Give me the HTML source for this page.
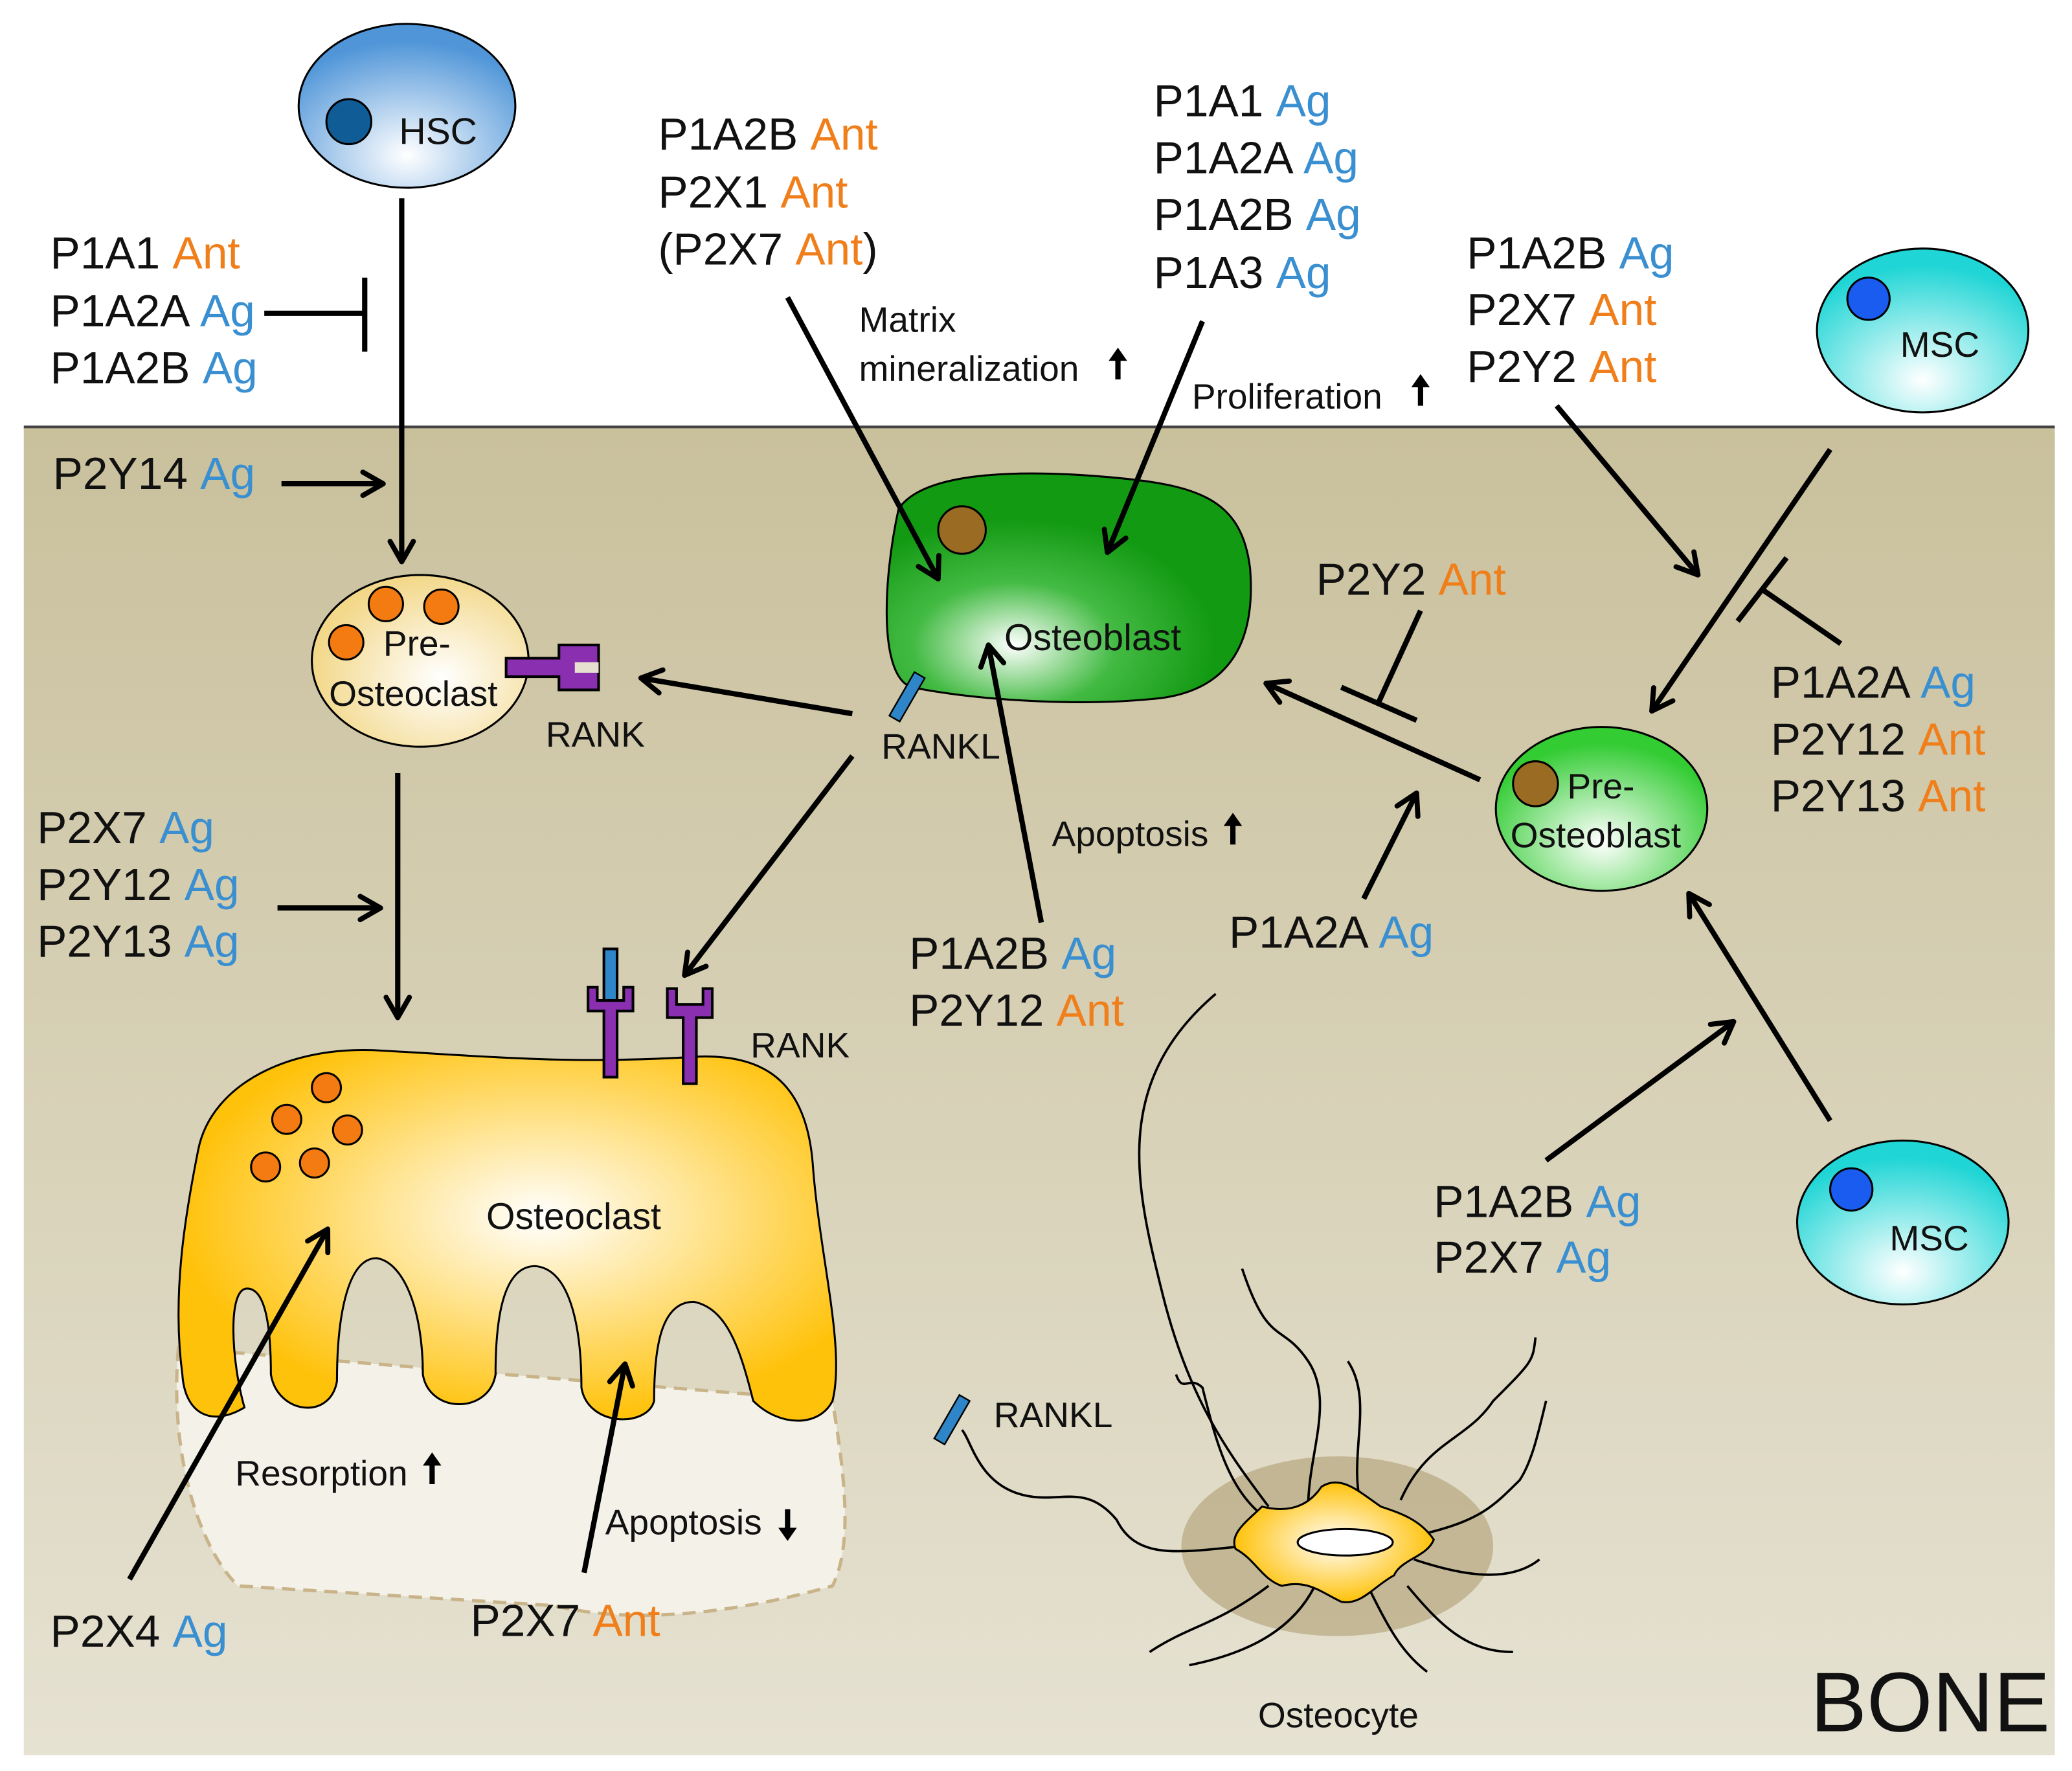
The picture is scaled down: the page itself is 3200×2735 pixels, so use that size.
<!DOCTYPE html>
<html><head><meta charset="utf-8"><style>
html,body{margin:0;padding:0;background:#fff;width:3200px;height:2735px;overflow:hidden}
svg{display:block}
text{font-family:"Liberation Sans",sans-serif}
.b{font-size:34px;fill:#111}
.s{font-size:27px;fill:#111}
.o{fill:#f07f1b}
.g{fill:#3a8fd0}
</style></head><body>
<svg width="3200" height="2735" viewBox="0 0 1568 1340" xmlns="http://www.w3.org/2000/svg">
<defs>
<linearGradient id="bone" x1="0" y1="0" x2="0" y2="1">
<stop offset="0" stop-color="#c9c09c"/><stop offset="1" stop-color="#e6e2d2"/></linearGradient>
<radialGradient id="blue" cx="0.5" cy="0.8" r="0.7"><stop offset="0" stop-color="#ffffff"/><stop offset="1" stop-color="#4f95d8"/></radialGradient>
<radialGradient id="cyan" cx="0.5" cy="0.8" r="0.7"><stop offset="0" stop-color="#ffffff"/><stop offset="1" stop-color="#1fd5d5"/></radialGradient>
<radialGradient id="pre" cx="0.6" cy="0.6" r="0.6"><stop offset="0" stop-color="#ffffff"/><stop offset="1" stop-color="#f3d88a"/></radialGradient>
<radialGradient id="lg" cx="0.5" cy="0.7" r="0.6"><stop offset="0" stop-color="#ffffff"/><stop offset="1" stop-color="#33cc33"/></radialGradient>
<radialGradient id="dg" cx="0.35" cy="0.75" r="0.55"><stop offset="0" stop-color="#ffffff"/><stop offset="0.5" stop-color="#44bb44"/><stop offset="1" stop-color="#139a13"/></radialGradient>
<radialGradient id="oc" cx="0.55" cy="0.45" r="0.55"><stop offset="0" stop-color="#ffffff"/><stop offset="1" stop-color="#ffc20a"/></radialGradient>
<radialGradient id="ocy" cx="0.5" cy="0.5" r="0.5"><stop offset="0" stop-color="#ffffff"/><stop offset="1" stop-color="#ffc20a"/></radialGradient>
<marker id="ar" viewBox="0 0 20 20" refX="17" refY="10" markerWidth="22" markerHeight="22" markerUnits="userSpaceOnUse" orient="auto">
<path d="M3,2 L17,10 L3,18" fill="none" stroke="#000" stroke-width="3.5" stroke-linecap="round" stroke-linejoin="round"/></marker>
</defs>
<rect width="1568" height="1340" fill="#fff"/>
<rect x="18" y="323" width="1537" height="1005" fill="url(#bone)"/>
<line x1="18" y1="323" x2="1555" y2="323" stroke="#444" stroke-width="2"/>

<!-- HSC -->
<ellipse cx="308" cy="80" rx="82" ry="62" fill="url(#blue)" stroke="#000" stroke-width="1.5"/>
<circle cx="264" cy="92" r="17" fill="#0f5c96" stroke="#000" stroke-width="1.5"/>
<text x="302" y="109" font-size="28" fill="#111">HSC</text>

<!-- MSCs -->
<ellipse cx="1455" cy="250" rx="80" ry="62" fill="url(#cyan)" stroke="#000" stroke-width="1.5"/>
<circle cx="1414" cy="226" r="16" fill="#1a5cf0" stroke="#000" stroke-width="1.5"/>
<text x="1438" y="270" font-size="27" fill="#111">MSC</text>
<ellipse cx="1440" cy="925" rx="80" ry="62" fill="url(#cyan)" stroke="#000" stroke-width="1.5"/>
<circle cx="1401" cy="900" r="16" fill="#1a5cf0" stroke="#000" stroke-width="1.5"/>
<text x="1430" y="946" font-size="27" fill="#111">MSC</text>

<!-- Pre-osteoclast -->
<ellipse cx="318" cy="500" rx="82" ry="65" fill="url(#pre)" stroke="#000" stroke-width="1.5"/>
<path d="M383,498 h40 v-10 h30 v34 h-30 v-10 h-40z" fill="#8a2fb0" stroke="#000" stroke-width="2"/>
<rect x="435" y="501" width="18" height="8" fill="#e5e0cf"/>
<g fill="#f47a12" stroke="#000" stroke-width="1.5"><circle cx="292" cy="457" r="13"/><circle cx="334" cy="459" r="13"/><circle cx="262" cy="486" r="13"/></g>
<text x="290" y="496" font-size="27" fill="#111">Pre-</text>
<text x="249" y="534" font-size="27" fill="#111">Osteoclast</text>
<text x="413" y="565" class="s">RANK</text>

<!-- Osteoclast pit -->
<path d="M135,1020 C128,1100 150,1170 180,1200 L420,1215 C480,1230 560,1220 630,1200 C645,1170 640,1120 630,1060 L135,1020z" fill="#f3f1e8" stroke="#c9b48a" stroke-width="2.5" stroke-dasharray="10,6"/>
<!-- Osteoclast body -->
<path d="M150,870 C160,820 220,790 290,795 C380,800 430,805 520,800 C580,795 610,820 615,880 C620,950 640,1020 630,1060 C620,1080 590,1080 570,1060 C560,1020 550,990 525,985 C500,985 495,1020 495,1060 C490,1080 445,1080 440,1050 C440,1000 430,960 405,958 C380,958 375,1000 375,1040 C370,1070 325,1070 320,1040 C320,990 305,955 285,952 C262,952 255,1000 255,1045 C250,1075 210,1070 205,1040 C205,1000 200,975 187,975 C172,975 175,1030 185,1065 C160,1080 140,1070 138,1040 C130,980 140,920 150,870z" fill="url(#oc)" stroke="#000" stroke-width="1.5"/>
<g fill="#f47a12" stroke="#000" stroke-width="1.5"><circle cx="247" cy="823" r="11"/><circle cx="217" cy="847" r="11"/><circle cx="263" cy="855" r="11"/><circle cx="201" cy="883" r="11"/><circle cx="238" cy="880" r="11"/></g>
<text x="368" y="930" font-size="28" fill="#111">Osteoclast</text>
<g fill="#8a2fb0" stroke="#000" stroke-width="2">
<rect x="457" y="718" width="10" height="45" fill="#2e86c8"/>
<path d="M457,765 v50 h10 v-50 h12 v-18 h-7 v10 h-20 v-10 h-7 v18z"/>
<path d="M517,770 v50 h10 v-50 h12 v-22 h-7 v12 h-20 v-12 h-7 v22z"/>
</g>
<text x="568" y="800" class="s">RANK</text>

<!-- Osteoblast -->
<path d="M680,385 C700,355 780,355 850,362 C910,368 940,380 946,430 C950,480 935,520 880,528 C820,535 740,530 690,520 C665,512 668,440 680,385z" fill="url(#dg)" stroke="#000" stroke-width="1.5"/>
<circle cx="728" cy="401" r="18" fill="#9a6b22" stroke="#000" stroke-width="1.5"/>
<text x="760" y="492" font-size="28" fill="#111">Osteoblast</text>
<rect x="682" y="508" width="9" height="38" fill="#2e86c8" stroke="#000" stroke-width="1.2" transform="rotate(30 686 527)"/>
<text x="667" y="574" class="s">RANKL</text>

<!-- Pre-osteoblast -->
<ellipse cx="1212" cy="612" rx="80" ry="62" fill="url(#lg)" stroke="#000" stroke-width="1.5"/>
<circle cx="1162" cy="593" r="17" fill="#9a6b22" stroke="#000" stroke-width="1.5"/>
<text x="1186" y="604" font-size="27" fill="#111">Pre-</text>
<text x="1143" y="641" font-size="27" fill="#111">Osteoblast</text>

<!-- Osteocyte -->
<ellipse cx="1012" cy="1170" rx="118" ry="68" fill="#b6a77f" opacity="0.7"/>
<g stroke="#000" stroke-width="1.8" fill="none">
<path d="M960,1140 C930,1100 900,1060 880,980 C860,900 840,820 920,752"/>
<path d="M990,1140 C990,1100 1010,1060 990,1030 C970,1000 960,1020 940,960"/>
<path d="M1030,1140 C1020,1100 1040,1060 1020,1030"/>
<path d="M1060,1135 C1080,1090 1110,1090 1130,1060 C1160,1030 1160,1030 1162,1012"/>
<path d="M1080,1160 C1120,1150 1130,1140 1150,1120 C1160,1105 1165,1080 1170,1060"/>
<path d="M1070,1180 C1100,1190 1140,1200 1165,1180"/>
<path d="M1065,1200 C1090,1230 1110,1250 1145,1250"/>
<path d="M1035,1200 C1050,1230 1060,1250 1080,1265"/>
<path d="M995,1200 C980,1230 950,1250 900,1260"/>
<path d="M960,1200 C920,1230 900,1230 870,1250"/>
<path d="M940,1170 C890,1175 860,1180 845,1150 C820,1120 800,1140 770,1130 C740,1120 735,1090 728,1082"/>
<path d="M960,1150 C930,1130 920,1090 910,1050 C900,1040 895,1055 890,1040"/>
</g>
<path d="M955,1140 C975,1145 990,1140 1000,1125 C1015,1115 1030,1130 1045,1140 C1060,1145 1075,1150 1085,1165 C1080,1178 1060,1180 1055,1192 C1040,1200 1030,1215 1015,1212 C1000,1205 990,1195 970,1200 C955,1195 950,1180 935,1172 C930,1160 945,1150 955,1140z" fill="url(#ocy)" stroke="#000" stroke-width="1.5"/>
<ellipse cx="1018" cy="1167" rx="36" ry="10" fill="#fff" stroke="#000" stroke-width="1.5"/>
<rect x="716" y="1055" width="9" height="38" fill="#2e86c8" stroke="#000" stroke-width="1.2" transform="rotate(30 720 1074)"/>
<text x="752" y="1080" class="s">RANKL</text>
<text x="952" y="1307" class="s">Osteocyte</text>
<text x="1370" y="1310" font-size="64" fill="#111">BONE</text>

<!-- connectors (on top) -->
<g stroke="#000" stroke-width="4" fill="none" marker-end="url(#ar)">
<line x1="304" y1="150" x2="304" y2="425"/>
<line x1="213" y1="366" x2="290" y2="366"/>
<line x1="645" y1="540" x2="485" y2="513"/>
<line x1="301" y1="585" x2="301" y2="770"/>
<line x1="210" y1="687" x2="288" y2="687"/>
<line x1="645" y1="572" x2="518" y2="738"/>
<line x1="98" y1="1195" x2="248" y2="930"/>
<line x1="442" y1="1190" x2="473" y2="1032"/>
<line x1="596" y1="225" x2="710" y2="438"/>
<line x1="910" y1="243" x2="838" y2="418"/>
<line x1="1120" y1="590" x2="958" y2="517"/>
<line x1="788" y1="698" x2="748" y2="488"/>
<line x1="1032" y1="680" x2="1072" y2="600"/>
<line x1="1178" y1="307" x2="1285" y2="435"/>
<line x1="1385" y1="340" x2="1250" y2="538"/>
<line x1="1385" y1="848" x2="1278" y2="676"/>
<line x1="1170" y1="878" x2="1312" y2="773"/>
</g>
<g stroke="#000" stroke-width="4" fill="none">
<line x1="200" y1="237" x2="276" y2="237"/><line x1="276" y1="210" x2="276" y2="266"/>
<line x1="1075" y1="462" x2="1043" y2="532"/><line x1="1015" y1="520" x2="1072" y2="545"/>
<line x1="1393" y1="487" x2="1335" y2="447"/><line x1="1315" y1="470" x2="1352" y2="422"/>
</g>

<!-- Labels -->
<text x="38" y="203" class="b">P1A1 <tspan class="o">Ant</tspan></text>
<text x="38" y="247" class="b">P1A2A <tspan class="g">Ag</tspan></text>
<text x="38" y="290" class="b">P1A2B <tspan class="g">Ag</tspan></text>
<text x="40" y="370" class="b">P2Y14 <tspan class="g">Ag</tspan></text>
<text x="28" y="638" class="b">P2X7 <tspan class="g">Ag</tspan></text>
<text x="28" y="681" class="b">P2Y12 <tspan class="g">Ag</tspan></text>
<text x="28" y="724" class="b">P2Y13 <tspan class="g">Ag</tspan></text>
<text x="38" y="1246" class="b">P2X4 <tspan class="g">Ag</tspan></text>
<text x="178" y="1124" class="s">Resorption</text>
<text x="458" y="1161" class="s">Apoptosis</text>
<text x="356" y="1238" class="b">P2X7 <tspan class="o">Ant</tspan></text>
<text x="498" y="113" class="b">P1A2B <tspan class="o">Ant</tspan></text>
<text x="498" y="157" class="b">P2X1 <tspan class="o">Ant</tspan></text>
<text x="498" y="200" class="b">(P2X7 <tspan class="o">Ant</tspan>)</text>
<text x="650" y="251" class="s">Matrix</text>
<text x="650" y="288" class="s">mineralization</text>
<text x="873" y="88" class="b">P1A1 <tspan class="g">Ag</tspan></text>
<text x="873" y="131" class="b">P1A2A <tspan class="g">Ag</tspan></text>
<text x="873" y="174" class="b">P1A2B <tspan class="g">Ag</tspan></text>
<text x="873" y="218" class="b">P1A3 <tspan class="g">Ag</tspan></text>
<text x="902" y="309" class="s">Proliferation</text>
<text x="1110" y="203" class="b">P1A2B <tspan class="g">Ag</tspan></text>
<text x="1110" y="246" class="b">P2X7 <tspan class="o">Ant</tspan></text>
<text x="1110" y="289" class="b">P2Y2 <tspan class="o">Ant</tspan></text>
<text x="996" y="450" class="b">P2Y2 <tspan class="o">Ant</tspan></text>
<text x="796" y="640" class="s">Apoptosis</text>
<text x="688" y="733" class="b">P1A2B <tspan class="g">Ag</tspan></text>
<text x="688" y="776" class="b">P2Y12 <tspan class="o">Ant</tspan></text>
<text x="930" y="717" class="b">P1A2A <tspan class="g">Ag</tspan></text>
<text x="1340" y="528" class="b">P1A2A <tspan class="g">Ag</tspan></text>
<text x="1340" y="571" class="b">P2Y12 <tspan class="o">Ant</tspan></text>
<text x="1340" y="614" class="b">P2Y13 <tspan class="o">Ant</tspan></text>
<text x="1085" y="921" class="b">P1A2B <tspan class="g">Ag</tspan></text>
<text x="1085" y="963" class="b">P2X7 <tspan class="g">Ag</tspan></text>

<!-- small up/down arrows -->
<g fill="#000">
<path d="M844,287 v-14 h-5 l7,-10 l7,10 h-5 v14z"/>
<path d="M1073,307 v-14 h-5 l7,-10 l7,10 h-5 v14z"/>
<path d="M931,639 v-14 h-5 l7,-10 l7,10 h-5 v14z"/>
<path d="M325,1123 v-14 h-5 l7,-10 l7,10 h-5 v14z"/>
<path d="M594,1142 v14 h-5 l7,10 l7,-10 h-5 v-14z"/>
</g>
</svg>
</body></html>
